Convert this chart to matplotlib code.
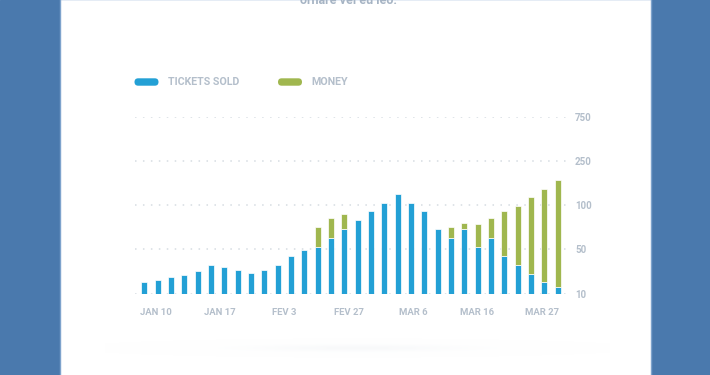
import numpy as np
import matplotlib
matplotlib.use("Agg")
import matplotlib.pyplot as plt
from matplotlib.patches import FancyBboxPatch, Rectangle

# データ
tickets = [20, 22, 25, 27, 30, 36, 34, 31, 29, 31, 36, 44, 49, 53, 63, 73,
           83, 93, 109, 138, 109, 93, 73, 63, 73, 53, 63, 44, 36, 28, 20, 16]
# money = 緑の棒の上端の値 (0 は棒なし)
money = [0, 0, 0, 0, 0, 0, 0, 0, 0, 0, 0, 0, 0, 75, 85, 90,
         0, 0, 0, 0, 0, 0, 0, 75, 80, 79, 86, 93, 99, 127, 156, 186]
date_labels = ["JAN 10", "JAN 17", "FEV 3", "FEV 27", "MAR 6", "MAR 16", "MAR 27"]
y_ticks = [10, 50, 100, 250, 750]

BLUE = "#23a0d5"
GREEN = "#a0b74f"
BG = "#4a79ad"
TXT = "#b4bfcb"
GRID = "#d6dce2"

plt.rcParams['font.family'] = ['Roboto', 'DejaVu Sans']

W, H = 710, 375
fig = plt.figure(figsize=(W / 100, H / 100), dpi=100)

# 背景 (ピクセル座標)
bg = fig.add_axes([0, 0, 1, 1])
bg.set_xlim(0, W)
bg.set_ylim(H, 0)
bg.axis("off")
bg.add_patch(Rectangle((0, 0), W, H, color=BG, zorder=0))
bg.add_patch(Rectangle((59.5, -1), 591.5, H + 2, facecolor="white",
                       edgecolor="#7ea3cc", linewidth=1.0, zorder=1))
# 下の影 (かなり薄く)
gx = np.linspace(-1, 1, 300)
gy = np.linspace(-1, 1, 60)
GX, GY = np.meshgrid(gx, gy)
shadow = np.exp(-(GX ** 2) * 3 - (GY ** 2) * 8)
cmap = matplotlib.colors.LinearSegmentedColormap.from_list(
    "sh", [(1, 1, 1, 0), (0.88, 0.9, 0.92, 0.22)])
bg.imshow(shadow, extent=(105, 610, 362, 334), cmap=cmap, zorder=2,
          aspect="auto", interpolation="bilinear")
bg.text(348, 4, "ornare vel eu leo.", ha="center", va="baseline",
        fontsize=9, fontweight="bold", color="#a6b4c4", zorder=3)

# 凡例
for x0, col, lab in [(134, BLUE, "TICKETS SOLD"), (277.5, GREEN, "MONEY")]:
    bg.add_patch(FancyBboxPatch((x0 + 0.5, 78.3), 24, 7.4,
                                boxstyle="round,pad=0,rounding_size=3.7",
                                facecolor=col, edgecolor="none", zorder=3))
    bg.text(x0 + 33.5, 82.2, lab, ha="left", va="center", fontsize=7.7,
            fontweight="bold", color=TXT, zorder=3)

# グラフ本体
ax = fig.add_axes([135 / W, 1 - 293.5 / H, 433 / W, 176.5 / H])
ax.patch.set_alpha(0)
fwd = lambda v: np.interp(v, y_ticks, np.arange(len(y_ticks)))
inv = lambda p: np.interp(p, np.arange(len(y_ticks)), y_ticks)
ax.set_yscale("function", functions=(fwd, inv))
ax.set_ylim(10, 750)

x = np.arange(len(tickets))
ax.set_xlim(-0.7, len(tickets) - 0.23)

for yv in y_ticks:
    ax.axhline(yv, color=GRID, linewidth=1.1, linestyle=(0, (1, 4.2)), zorder=0)

ax.bar(x, np.array(tickets) - 10, bottom=10, width=0.46, color=BLUE,
       edgecolor="white", linewidth=0.5, zorder=2)
m = np.array(money)
t = np.array(tickets)
has = m > 0
ax.bar(x[has], m[has] - t[has], bottom=t[has], width=0.46, color=GREEN,
       edgecolor="white", linewidth=0.5, zorder=2)

for s in ax.spines.values():
    s.set_visible(False)
ax.yaxis.tick_right()
ax.set_yticks(y_ticks)
ax.set_yticklabels([str(v) for v in y_ticks])
ax.yaxis.set_minor_locator(matplotlib.ticker.NullLocator())
ax.tick_params(axis="y", length=0, pad=5, labelsize=7, labelcolor=TXT)
for lab in ax.get_yticklabels():
    lab.set_fontweight("bold")
    lab.set_horizontalalignment("left")

ax.set_xticks(np.linspace(0.86, 29.8, len(date_labels)))
ax.set_xticklabels(date_labels)
ax.tick_params(axis="x", length=0, pad=10.5, labelsize=6.8, labelcolor=TXT)
for lab in ax.get_xticklabels():
    lab.set_fontweight("bold")

fig.savefig("out.png", dpi=100)
